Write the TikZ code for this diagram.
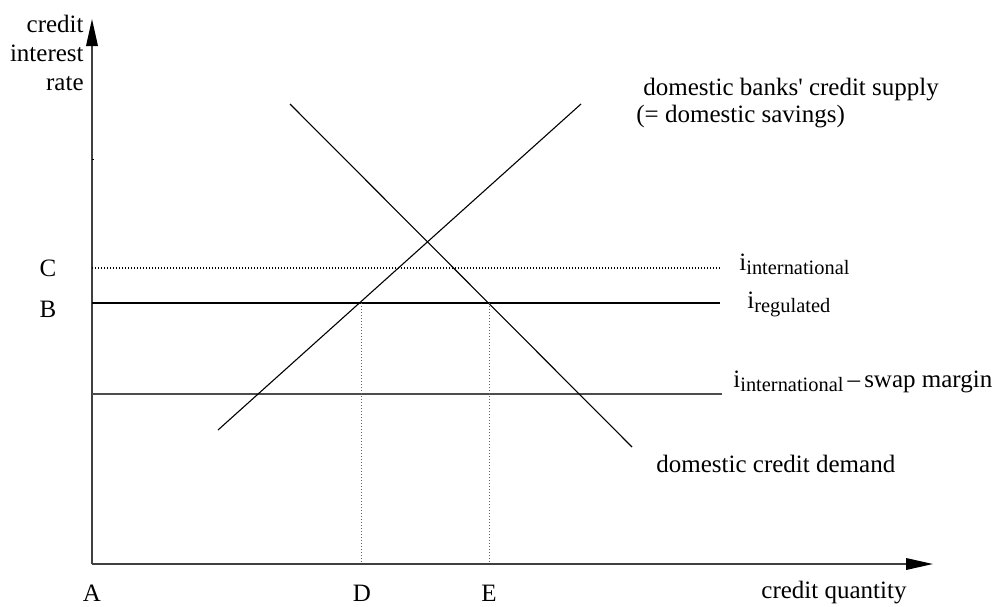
\documentclass[tikz,border=0pt]{standalone}
\usepackage{fontspec}
\setmainfont{Liberation Serif}
\usetikzlibrary{arrows.meta}
\newcommand\subtxt[1]{\raisebox{-2.3pt}{\fontsize{10.2}{12}\selectfont #1}}
\begin{document}
\begin{tikzpicture}[x=0.5pt,y=-0.5pt,
  lbl/.style={inner sep=0pt, font=\fontsize{12.5}{14.3}\selectfont},
  axis/.style={draw=black!75, line width=0.8pt},
  curve/.style={draw=black, line width=0.55pt},
  level/.style={draw=black, line width=0.55pt},
  graylevel/.style={draw=black!70, line width=0.8pt},
  dotlevel/.style={draw=black, line width=0.55pt, dash pattern=on 0.5pt off 1pt},
  guide/.style={draw=black!60, line width=0.5pt, dash pattern=on 0.5pt off 1pt},
  tip/.style={-{Triangle[length=13.5pt,width=5.8pt,color=black]}}]
\useasboundingbox (0,0) rectangle (995,606);
% axes
\coordinate (O) at (92,564);
\coordinate (Ytop) at (92,19);
\coordinate (Xend) at (933,564);
\coordinate (tickA) at (92,159);
\coordinate (tickB) at (94,159);
\draw[axis, tip] (O) -- (Ytop);
\draw[axis, tip] (O) -- (Xend);
\draw[black, line width=0.4pt] (tickA) -- (tickB);
% levels
\coordinate (Cl) at (92,268);  \coordinate (Cr) at (721,268);
\coordinate (Bl) at (92,303);  \coordinate (Br) at (720,303);
\coordinate (Wl) at (92,394);  \coordinate (Wr) at (722,394);
\draw[dotlevel] (Cl) -- (Cr);
\draw[level] (Bl) -- (Br);
\draw[graylevel] (Wl) -- (Wr);
% curves
\coordinate (S1) at (218,430); \coordinate (S2) at (581,104);
\coordinate (D1) at (290,104); \coordinate (D2) at (632,447);
\draw[curve] (S1) -- (S2);
\draw[curve] (D1) -- (D2);
% guides
\coordinate (Dt) at (361,303); \coordinate (Db) at (361,564);
\coordinate (Et) at (489,303); \coordinate (Eb) at (489,564);
\draw[guide] (Dt) -- (Db);
\draw[guide] (Et) -- (Eb);
% labels
\node[lbl, align=right, anchor=east] (ylab) at (84,53) {credit\\interest\\rate};
\node[lbl] (C) at (48,268) {C};
\node[lbl] (B) at (48,309) {B};
\node[lbl] (A) at (92,593) {A};
\node[lbl] (D) at (362,593) {D};
\node[lbl] (E) at (489,593) {E};
\node[lbl] (xlab) at (834,593) {credit quantity};
\node[lbl, anchor=base west] (iint) at (739,270) {i\subtxt{international}};
\node[lbl, anchor=base west] (ireg) at (747,308) {i\subtxt{regulated}};
\node[lbl, anchor=base west] (iswap) at (733,387) {i\subtxt{international}\,–\,swap margin};
\node[lbl, anchor=base west] (dem) at (656,472) {domestic credit demand};
\node[lbl, anchor=base west] (sup) at (643,95) {domestic banks\textquotesingle{} credit supply};
\node[lbl, anchor=base west] (sav) at (636,122) {(= domestic savings)};
\end{tikzpicture}
\end{document}
